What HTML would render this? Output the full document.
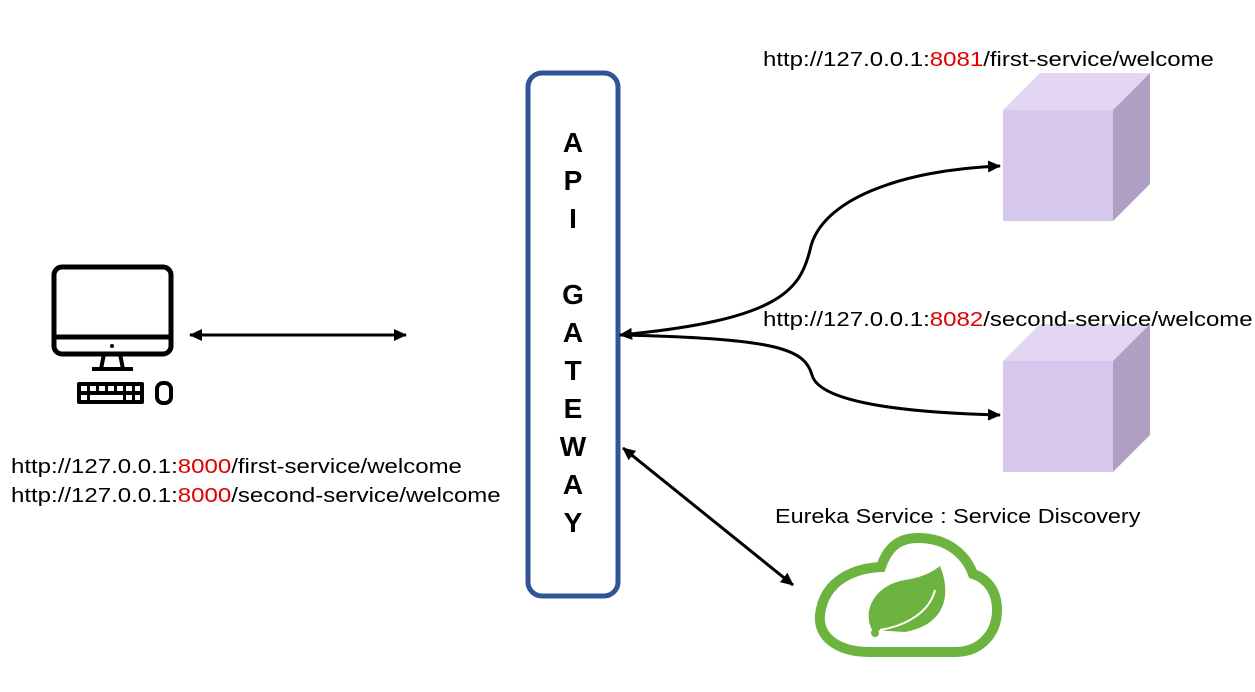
<!DOCTYPE html>
<html><head><style>
body{margin:0;width:1255px;height:692px;background:#fff;position:relative;overflow:hidden;font-family:"Liberation Sans","Noto Sans CJK KR",sans-serif;}
.t{position:absolute;font-size:20px;color:#000;white-space:nowrap;line-height:24px;transform-origin:0 50%;transform:scaleX(1.2);}
.r{color:#e00000;}
</style></head><body>
<svg width="1255" height="692" style="position:absolute;left:0;top:0">
<defs><marker id="a" markerWidth="14" markerHeight="14" refX="12" refY="6" orient="auto-start-reverse" markerUnits="userSpaceOnUse"><path d="M0,0 L13,6 L0,12 Z" fill="#000"/></marker></defs>
<rect x="528" y="73" width="90" height="523" rx="14" fill="#fff" stroke="#2f5597" stroke-width="5"/>
<rect x="54" y="267" width="117" height="87" rx="8" fill="none" stroke="#000" stroke-width="5"/>
<line x1="54" y1="337" x2="171" y2="337" stroke="#000" stroke-width="5"/>
<circle cx="112" cy="346" r="2" fill="#000"/>
<path d="M104 354 L101 369 L123 369 L120 354" fill="none" stroke="#000" stroke-width="4"/>
<line x1="92" y1="369" x2="133" y2="369" stroke="#000" stroke-width="4"/>
<rect x="77" y="382" width="67" height="22" rx="2" fill="#000"/>
<g fill="#fff"><rect x="81" y="386" width="6" height="5"/><rect x="90" y="386" width="6" height="5"/><rect x="99" y="386" width="6" height="5"/><rect x="108" y="386" width="6" height="5"/><rect x="117" y="386" width="6" height="5"/><rect x="126" y="386" width="6" height="5"/><rect x="135" y="386" width="5" height="5"/>
<rect x="81" y="395" width="6" height="5"/><rect x="90" y="395" width="33" height="5"/><rect x="126" y="395" width="6" height="5"/><rect x="135" y="395" width="5" height="5"/></g>
<rect x="157" y="383" width="14" height="20" rx="6" fill="none" stroke="#000" stroke-width="4"/>
<line x1="190" y1="335" x2="406" y2="335" stroke="#000" stroke-width="3" marker-start="url(#a)" marker-end="url(#a)"/>
<path d="M620 335 C 780 320, 800 290, 810 250 C 820 200, 900 170, 1000 166" fill="none" stroke="#000" stroke-width="3" marker-start="url(#a)" marker-end="url(#a)"/>
<path d="M620 335 C 780 338, 805 350, 812 375 C 820 405, 920 413, 1000 415" fill="none" stroke="#000" stroke-width="3" marker-end="url(#a)"/>
<line x1="623" y1="448" x2="793" y2="585" stroke="#000" stroke-width="3" marker-start="url(#a)" marker-end="url(#a)"/>
<g>
<polygon points="1003,110 1040,73 1150,73 1113,110" fill="#e2d6f3"/>
<polygon points="1113,110 1150,73 1150,184 1113,221" fill="#ae9fc3"/>
<rect x="1003" y="110" width="110" height="111" fill="#d6c8ec"/>
</g>
<g transform="translate(0,251)">
<polygon points="1003,110 1040,73 1150,73 1113,110" fill="#e2d6f3"/>
<polygon points="1113,110 1150,73 1150,184 1113,221" fill="#ae9fc3"/>
<rect x="1003" y="110" width="110" height="111" fill="#d6c8ec"/>
</g>
<path d="M870 652 L955 652 C 982 652, 997 632, 997 610 C 997 590, 986 578, 973 574 C 966 555, 948 538, 918 538 C 900 538, 888 546, 881 567 C 858 568, 824 578, 820 615 C 818 635, 835 652, 870 652 Z" fill="none" stroke="#6db33f" stroke-width="10"/>
<path d="M872 630 C 862 610, 875 585, 905 580 C 925 577, 935 570, 940 566 C 952 595, 945 625, 905 632 Z" fill="#6db33f"/>
<path d="M880 630 C 910 625, 930 610, 935 590" fill="none" stroke="#fff" stroke-width="2"/>
<circle cx="875" cy="633" r="4" fill="#6db33f"/>
</svg>
<div style="position:absolute;left:528px;top:124px;width:90px;text-align:center;font-weight:bold;font-size:28px;line-height:38px;">A<br>P<br>I<br><br>G<br>A<br>T<br>E<br>W<br>A<br>Y</div>
<div class="t" style="left:763px;top:48px">http://127.0.0.1:<span class="r">8081</span>/first-service/welcome</div>
<div class="t" style="left:763px;top:308px">http://127.0.0.1:<span class="r">8082</span>/second-service/welcome</div>
<div class="t" style="left:11px;top:455px">http://127.0.0.1:<span class="r">8000</span>/first-service/welcome</div>
<div class="t" style="left:11px;top:484px">http://127.0.0.1:<span class="r">8000</span>/second-service/welcome</div>
<div class="t" style="left:775px;top:505px;transform:scaleX(1.17)">Eureka Service : Service Discovery</div>
</body></html>
